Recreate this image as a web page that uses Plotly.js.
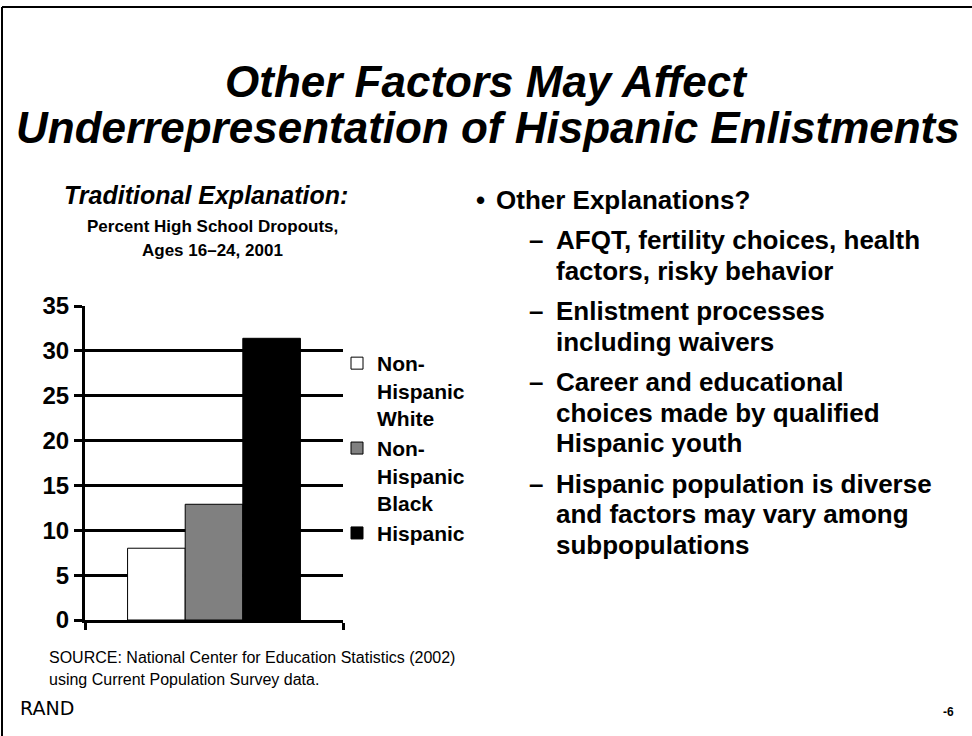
<!DOCTYPE html>
<html>
<head>
<meta charset="utf-8">
<script src="https://cdn.plot.ly/plotly-3.0.1.min.js"></script>
<style>
  html, body { margin: 0; padding: 0; background: #fff; }
  #myDiv { width: 972px; height: 736px; }
</style>
</head>
<body>
<div id="myDiv"></div>
<script>
// data
var groups = ['Non-<br>Hispanic<br>White', 'Non-<br>Hispanic<br>Black', 'Hispanic'];
var dropoutPct = [8.0, 12.9, 31.4];
var year = ['2001'];

var bullet = 'Other Explanations?';
var subLines = [
  ['AFQT, fertility choices, health', 'factors, risky behavior'],
  ['Enlistment processes', 'including waivers'],
  ['Career and educational', 'choices made by qualified', 'Hispanic youth'],
  ['Hispanic population is diverse', 'and factors may vary among', 'subpopulations']
];

var FONT = 'Liberation Sans, Arial, sans-serif';
var fills = ['#ffffff', '#808080', '#000000'];

// plot box in page pixels
var L = 85, T = 306, W = 258, H = 314;
function px(x) { return (x - L) / W; }
function py(y) { return 1 - (y - T) / H; }

var data = groups.map(function (g, i) {
  return {
    type: 'bar',
    name: g,
    x: year,
    y: [dropoutPct[i]],
    marker: {color: fills[i], line: {color: '#000', width: 1}},
    hoverinfo: 'y'
  };
});

var ann = [];
function txt(s, x, y, size, opts) {
  opts = opts || {};
  ann.push({
    xref: 'paper', yref: 'paper', x: px(x), y: py(y),
    xanchor: opts.anchor || 'left', yanchor: 'middle',
    text: s, showarrow: false,
    font: {family: opts.family || FONT, size: size, color: '#000',
           weight: opts.weight || 'normal', style: opts.style || 'normal'}
  });
}

txt('Other Factors May Affect', 486, 81, 44, {anchor: 'center', weight: 'bold', style: 'italic'});
txt('Underrepresentation of Hispanic Enlistments', 488, 127, 44, {anchor: 'center', weight: 'bold', style: 'italic'});

txt('Traditional Explanation:', 206, 195, 25, {anchor: 'center', weight: 'bold', style: 'italic'});
txt('Percent High School Dropouts,', 212, 226, 17, {anchor: 'center', weight: 'bold'});
txt('Ages 16\u201324, 2001', 212, 250, 17, {anchor: 'center', weight: 'bold'});

txt('\u2022', 474, 200, 26, {weight: 'bold'});
txt(bullet, 494, 200, 26, {weight: 'bold'});
var yy = 240;
subLines.forEach(function (item) {
  txt('\u2013', 527, yy, 26, {weight: 'bold'});
  item.forEach(function (line) {
    txt(line, 554, yy, 26, {weight: 'bold'});
    yy += 30.5;
  });
  yy += 10;
});

txt('SOURCE: National Center for Education Statistics (2002)', 47, 657, 16);
txt('using Current Population Survey data.', 47, 679, 16);
txt('RAND', 18, 708, 19, {family: 'DejaVu Sans, sans-serif'});
txt('-6', 956, 712, 12, {anchor: 'right', weight: 'bold'});

var layout = {
  width: 972,
  height: 736,
  margin: {l: L, r: 972 - L - W, t: T, b: 736 - T - H, pad: 0},
  paper_bgcolor: '#fff',
  plot_bgcolor: '#fff',
  font: {family: FONT, color: '#000'},
  barmode: 'group',
  bargap: 0.33,
  bargroupgap: 0,
  showlegend: true,
  legend: {
    x: px(337), y: py(343), xanchor: 'left', yanchor: 'top',
    valign: 'top', itemwidth: 30,
    font: {family: FONT, size: 21, weight: 'bold'},
    bgcolor: 'rgba(0,0,0,0)', traceorder: 'normal'
  },
  xaxis: {
    type: 'category', range: [-0.5, 0.5],
    showticklabels: false, showgrid: false, zeroline: false,
    showline: true, linecolor: '#000', linewidth: 3,
    ticks: 'outside', tickson: 'boundaries', ticklen: 7, tickwidth: 3, tickcolor: '#000'
  },
  yaxis: {
    range: [0, 35], dtick: 5, tick0: 0,
    showgrid: true, gridcolor: '#000', gridwidth: 3, zeroline: false,
    showline: true, linecolor: '#000', linewidth: 3,
    ticks: 'outside', ticklen: 8, tickwidth: 3, tickcolor: '#000',
    tickfont: {family: FONT, size: 24, weight: 'bold'}
  },
  shapes: [
    {type: 'line', xref: 'paper', yref: 'paper', x0: px(2), x1: px(972), y0: py(7), y1: py(7), line: {color: '#000', width: 2}},
    {type: 'line', xref: 'paper', yref: 'paper', x0: px(2), x1: px(2), y0: py(7), y1: py(736), line: {color: '#000', width: 2}}
  ],
  annotations: ann
};

Plotly.newPlot('myDiv', data, layout, {displayModeBar: false, responsive: false});
</script>
</body>
</html>
